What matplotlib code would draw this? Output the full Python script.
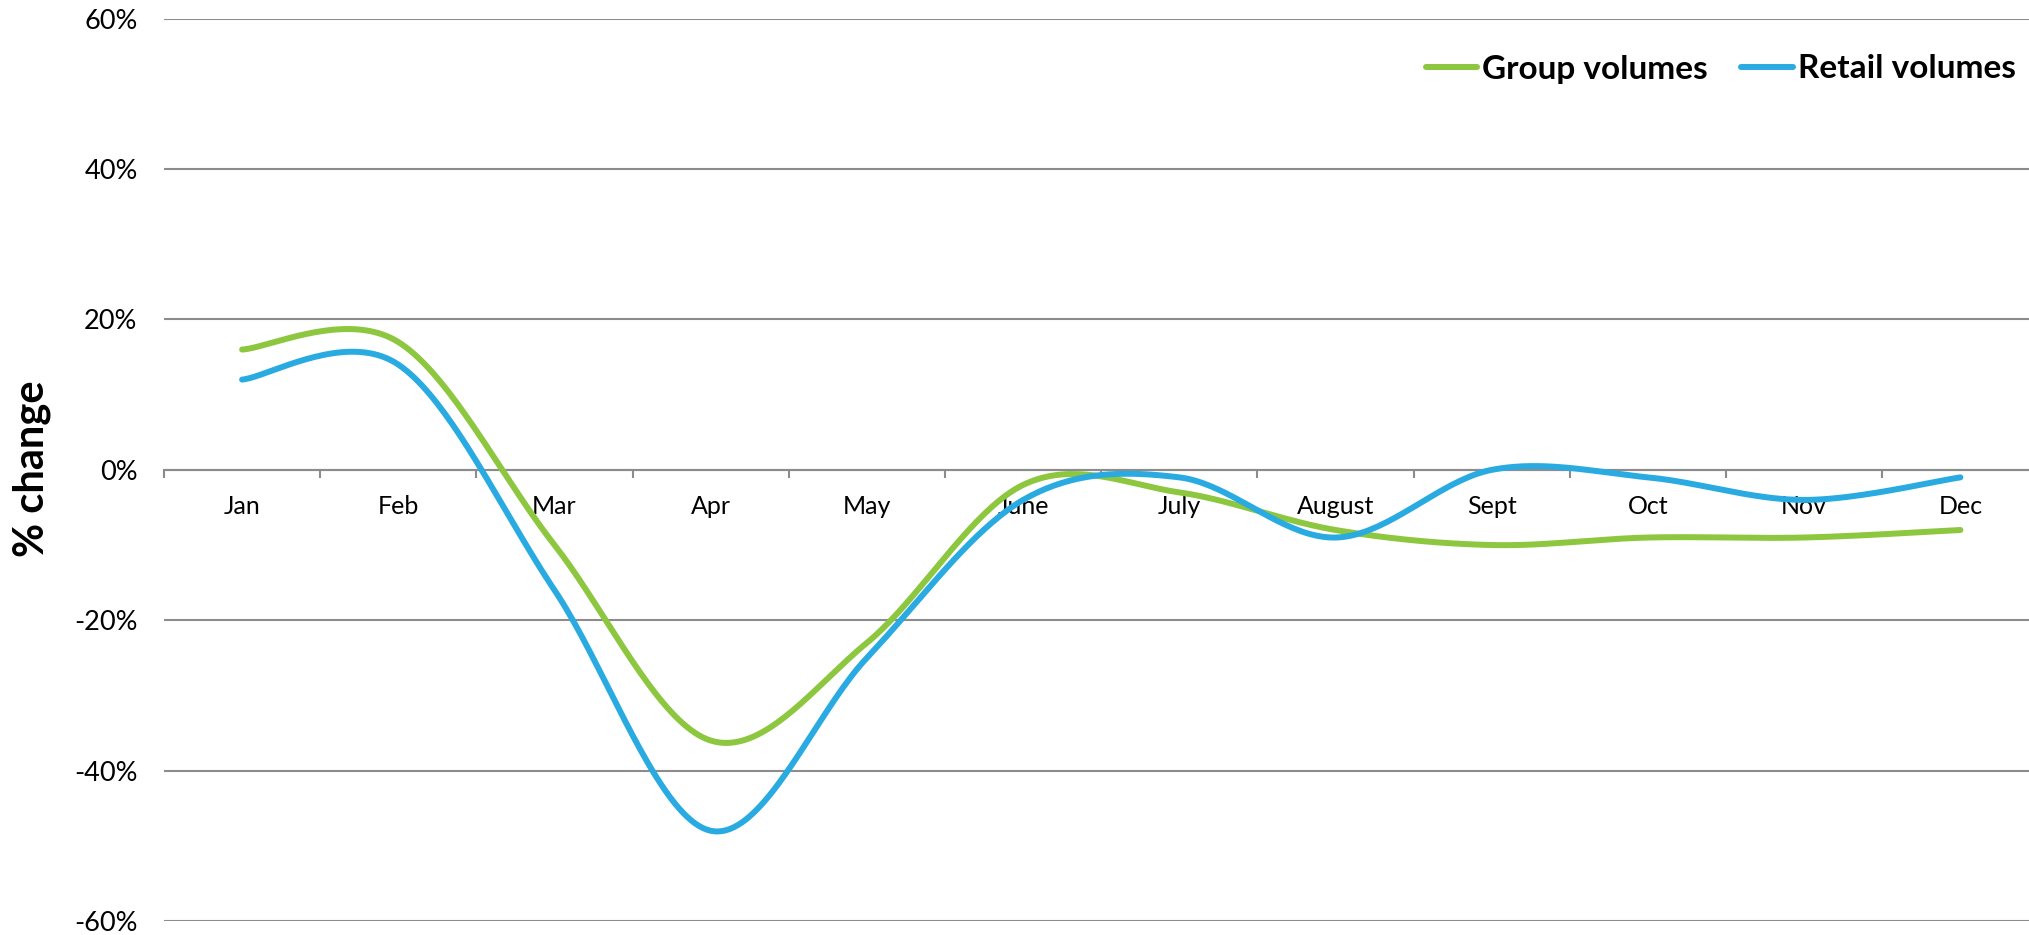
import numpy as np
import matplotlib
matplotlib.use('Agg')
import matplotlib.pyplot as plt

# monthly % change in volumes
months = ['Jan', 'Feb', 'Mar', 'Apr', 'May', 'June', 'July', 'August', 'Sept', 'Oct', 'Nov', 'Dec']
group_volumes = [16, 17, -10, -36, -23, -2, -3, -8, -10, -9, -9, -8]
retail_volumes = [12, 14, -16, -48, -25, -4, -1, -9, 0, -1, -4, -1]

GREEN = '#8DC63F'
BLUE = '#29ABE2'
GRID = '#8C8C8C'


def smooth(x, y, n=40):
   # catmull-rom spline through every point (like a spreadsheet "smoothed line")
   x = np.asarray(x, dtype=float)
   y = np.asarray(y, dtype=float)
   px = np.concatenate([[x[0]], x, [x[-1]]])
   py = np.concatenate([[y[0]], y, [y[-1]]])
   xs, ys = [], []
   for i in range(1, len(px) - 2):
      t = np.linspace(0, 1, n, endpoint=(i == len(px) - 3))
      mx0 = (px[i+1] - px[i-1]) / 2
      mx1 = (px[i+2] - px[i]) / 2
      my0 = (py[i+1] - py[i-1]) / 2
      my1 = (py[i+2] - py[i]) / 2
      h00 = 2*t**3 - 3*t**2 + 1
      h10 = t**3 - 2*t**2 + t
      h01 = -2*t**3 + 3*t**2
      h11 = t**3 - t**2
      xs.append(h00*px[i] + h10*mx0 + h01*px[i+1] + h11*mx1)
      ys.append(h00*py[i] + h10*my0 + h01*py[i+1] + h11*my1)
   return np.concatenate(xs), np.concatenate(ys)


plt.rcParams['font.family'] = ['Lato', 'DejaVu Sans']

fig = plt.figure(figsize=(20.29, 9.35), dpi=100)
ax = fig.add_axes([164/2029, 14/935, 1874.5/2029, 902.3/935])

idx = np.arange(len(months))
gx, gy = smooth(idx, group_volumes)
rx, ry = smooth(idx, retail_volumes)
ax.plot(gx, gy, color=GREEN, lw=4.3, solid_capstyle='round', label='Group volumes', zorder=3)
ax.plot(rx, ry, color=BLUE, lw=4.3, solid_capstyle='round', label='Retail volumes', zorder=4)

ax.set_xlim(-0.5, len(months) - 0.5)
ax.set_ylim(-60, 60)

#GRIDLINES
ax.set_yticks(np.arange(-60, 61, 20))
ax.set_yticklabels([str(v) + '%' for v in range(-60, 61, 20)])
ax.yaxis.grid(True, color=GRID, lw=1.5)
ax.set_axisbelow(True)
ax.tick_params(axis='y', length=0, pad=19, labelsize=19.5)

for s in ['top', 'right', 'left']:
   ax.spines[s].set_visible(False)
ax.spines['bottom'].set_position(('data', 0))
ax.spines['bottom'].set_color(GRID)
ax.spines['bottom'].set_linewidth(1.5)

# ticks between months, labels at month centres
ax.set_xticks(np.arange(-0.5, len(months), 1.0))
ax.set_xticklabels([])
ax.tick_params(axis='x', which='major', direction='out', length=6, width=1.5, color=GRID)
ax.set_xticks(idx, minor=True)
ax.set_xticklabels(months, minor=True)
ax.tick_params(axis='x', which='minor', length=0, pad=18, labelsize=18)

fig.text(32/2029, (935-469)/935, '% change', rotation=90, ha='center', va='center',
         fontsize=30, fontweight='bold')

ax.legend(loc='center right', bbox_to_anchor=(2016/2029, (935-69)/935), bbox_transform=fig.transFigure,
          ncol=2, frameon=False, borderpad=0, borderaxespad=0, handlelength=1.55,
          handletextpad=0.15, columnspacing=1.0, prop={'size': 24, 'weight': 'bold'})

plt.savefig('out.png', dpi=100)
